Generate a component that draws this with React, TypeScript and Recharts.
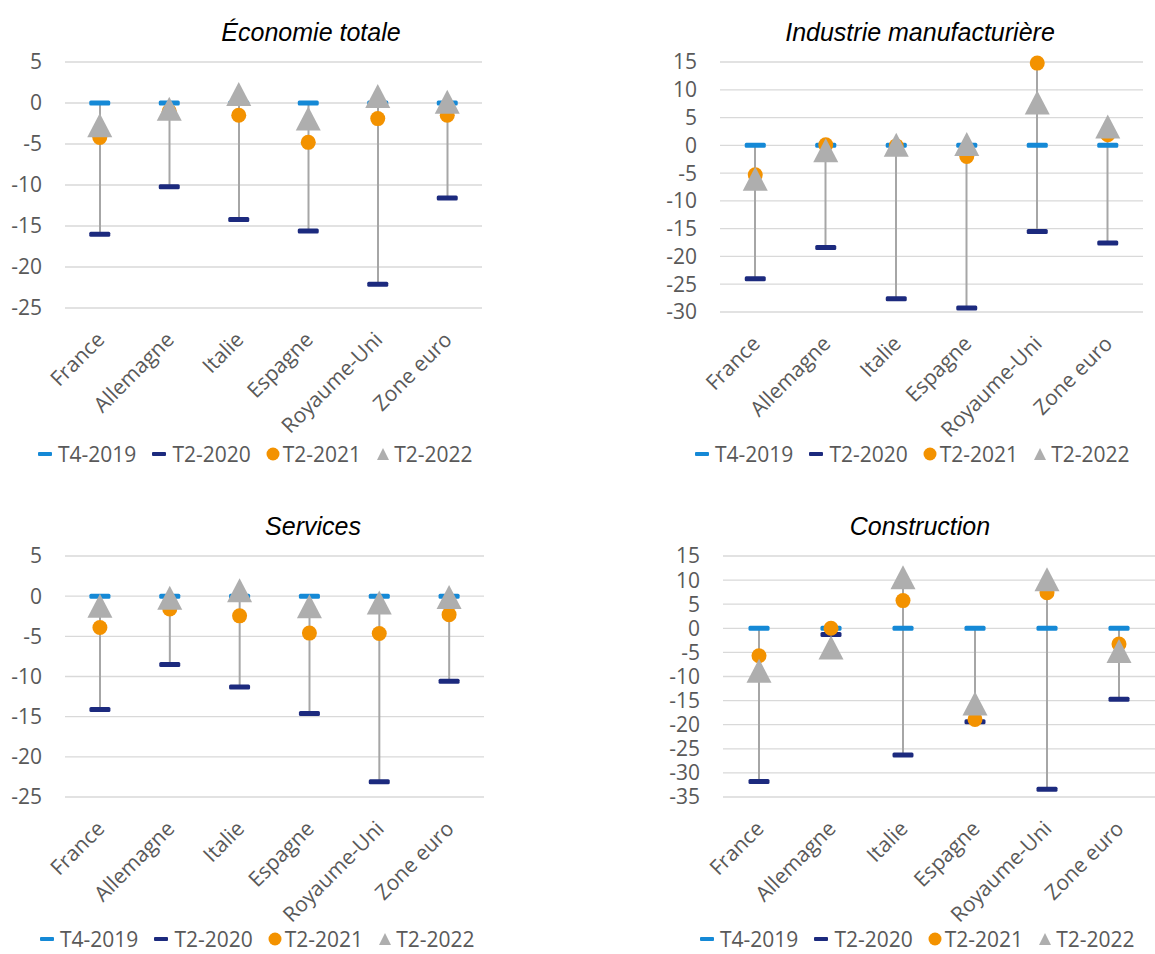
import React from "react";
import {
  ComposedChart,
  Line,
  Bar,
  XAxis,
  YAxis,
  CartesianGrid,
} from "recharts";

const categories = ["France", "Allemagne", "Italie", "Espagne", "Royaume-Uni", "Zone euro"];
const seriesNames = ["T4-2019", "T2-2020", "T2-2021", "T2-2022"];

// Économie totale
const ecoT4_2019 = [0, 0, 0, 0, 0, 0];
const ecoT2_2020 = [-16.0, -10.2, -14.2, -15.6, -22.1, -11.6];
const ecoT2_2021 = [-4.2, -1.0, -1.5, -4.8, -1.9, -1.5];
const ecoT2_2022 = [-2.7, -0.7, 1.1, -1.9, 0.85, 0.15];

// Industrie manufacturière
const indT4_2019 = [0, 0, 0, 0, 0, 0];
const indT2_2020 = [-24.0, -18.4, -27.6, -29.3, -15.5, -17.6];
const indT2_2021 = [-5.3, 0.1, -0.1, -2.0, 14.8, 1.9];
const indT2_2022 = [-6.0, -0.9, 0.1, 0.25, 7.7, 3.4];

// Services
const serT4_2019 = [0, 0, 0, 0, 0, 0];
const serT2_2020 = [-14.1, -8.5, -11.3, -14.6, -23.1, -10.6];
const serT2_2021 = [-3.9, -1.6, -2.45, -4.6, -4.65, -2.3];
const serT2_2022 = [-1.2, -0.2, 0.75, -1.25, -0.8, -0.1];

// Construction
const conT4_2019 = [0, 0, 0, 0, 0, 0];
const conT2_2020 = [-31.8, -1.3, -26.3, -19.4, -33.4, -14.7];
const conT2_2021 = [-5.7, 0, 5.75, -18.9, 7.4, -3.25];
const conT2_2022 = [-8.8, -4.0, 10.6, -15.6, 10.2, -4.7];

const ticksA = [-25, -20, -15, -10, -5, 0, 5];
const ticksInd = [-30, -25, -20, -15, -10, -5, 0, 5, 10, 15];
const ticksCon = [-35, -30, -25, -20, -15, -10, -5, 0, 5, 10, 15];

const colors = {
  t4: "#1589D6",
  t2020: "#1C2A7E",
  t2021: "#F39200",
  t2022: "#AEAEAE",
  hilo: "#A6A6A6",
};

const textColor = "#595959";
const font = "'Open Sans', sans-serif";

const buildRows = (a: number[], b: number[], c: number[], d: number[]) =>
  categories.map((name, i) => {
    const vals = [a[i], b[i], c[i], d[i]];
    return {
      name,
      t4: a[i],
      t2020: b[i],
      t2021: c[i],
      t2022: d[i],
      hilo: [Math.min(...vals), Math.max(...vals)],
    };
  });

const dashDot = (color: string) => (p: any) => (
  <rect
    key={`d-${p.index}`}
    x={p.cx - 10.5}
    y={p.cy - 2.5}
    width={21}
    height={5}
    rx={1.5}
    fill={color}
  />
);

const circleDot = (p: any) => (
  <circle key={`c-${p.index}`} cx={p.cx} cy={p.cy} r={7.5} fill={colors.t2021} />
);

const triDot = (p: any) => (
  <polygon
    key={`t-${p.index}`}
    points={`${p.cx},${p.cy - 12} ${p.cx + 12.5},${p.cy + 12} ${p.cx - 12.5},${p.cy + 12}`}
    fill={colors.t2022}
  />
);

// labels tilted at -45°, right end near the category
const CountryTick = (props: any) => {
  const { x, y, payload } = props;
  const ax = x + 6;
  const ay = y + 25;
  return (
    <text
      x={ax}
      y={ay}
      transform={`rotate(-45, ${ax}, ${ay})`}
      textAnchor="end"
      fontSize={21}
      fontFamily={font}
      fill={textColor}
    >
      {payload.value}
    </text>
  );
};

const LegendRow = ({ left, top }: { left: number; top: number }) => {
  const icon = (i: number) => {
    if (i === 0 || i === 1)
      return (
        <svg width={16} height={12} style={{ marginRight: 5 }}>
          <rect x={1} y={4} width={14} height={4} rx={1} fill={i === 0 ? colors.t4 : colors.t2020} />
        </svg>
      );
    if (i === 2)
      return (
        <svg width={14} height={14} style={{ marginRight: 3 }}>
          <circle cx={7} cy={7} r={6.5} fill={colors.t2021} />
        </svg>
      );
    return (
      <svg width={14} height={14} style={{ marginRight: 4 }}>
        <polygon points="7,1 13,13 1,13" fill={colors.t2022} />
      </svg>
    );
  };
  return (
    <div
      style={{
        position: "absolute",
        left,
        top: top - 11,
        height: 22,
        lineHeight: "22px",
        display: "flex",
        alignItems: "center",
        gap: 15,
        fontFamily: font,
        fontSize: 21,
        color: textColor,
        whiteSpace: "nowrap",
      }}
    >
      {seriesNames.map((s, i) => (
        <div key={s} style={{ display: "flex", alignItems: "center" }}>
          {icon(i)}
          <span>{s}</span>
        </div>
      ))}
    </div>
  );
};

interface PanelProps {
  title: string;
  titleX: number;
  titleY: number;
  plot: { left: number; top: number; right: number; bottom: number };
  rows: any[];
  domain: [number, number];
  ticks: number[];
  legendLeft: number;
  legendTop: number;
}

const Panel = ({ title, titleX, titleY, plot, rows, domain, ticks, legendLeft, legendTop }: PanelProps) => {
  const yw = 70;
  const mt = 15;
  const xh = 148;
  const width = plot.right - plot.left + yw;
  const height = plot.bottom - plot.top + mt + xh;
  return (
    <>
      <div
        style={{
          position: "absolute",
          left: titleX - 200,
          width: 400,
          top: titleY - 16,
          height: 32,
          lineHeight: "32px",
          textAlign: "center",
          fontFamily: "'Liberation Sans', Arial, sans-serif",
          fontStyle: "italic",
          fontSize: 25,
          color: "#000",
        }}
      >
        {title}
      </div>
      <div style={{ position: "absolute", left: plot.left - yw, top: plot.top - mt }}>
        <ComposedChart
          width={width}
          height={height}
          data={rows}
          margin={{ top: mt, right: 0, bottom: 0, left: 0 }}
        >
          <CartesianGrid vertical={false} stroke="#D9D9D9" strokeWidth={1.3} />
          <XAxis
            dataKey="name"
            height={xh}
            axisLine={false}
            tickLine={false}
            interval={0}
            tick={<CountryTick />}
          />
          <YAxis
            width={yw}
            domain={domain}
            ticks={ticks}
            interval={0}
            axisLine={false}
            tickLine={false}
            tickSize={0}
            tickMargin={23}
            tick={{ fill: textColor, fontSize: 21, fontFamily: font }}
          />
          <Bar dataKey="hilo" barSize={2} fill={colors.hilo} isAnimationActive={false} />
          <Line dataKey="t4" stroke="none" dot={dashDot(colors.t4)} activeDot={false} isAnimationActive={false} />
          <Line dataKey="t2020" stroke="none" dot={dashDot(colors.t2020)} activeDot={false} isAnimationActive={false} />
          <Line dataKey="t2021" stroke="none" dot={circleDot} activeDot={false} isAnimationActive={false} />
          <Line dataKey="t2022" stroke="none" dot={triDot} activeDot={false} isAnimationActive={false} />
        </ComposedChart>
      </div>
      <LegendRow left={legendLeft} top={legendTop} />
    </>
  );
};

export default function App() {
  return (
    <div
      style={{
        position: "absolute",
        left: 0,
        top: 0,
        width: 1155,
        height: 954,
        overflow: "hidden",
        background: "#fff",
      }}
    >
      <Panel
        title="Économie totale"
        titleX={311}
        titleY={32}
        plot={{ left: 65, top: 62, right: 482, bottom: 308 }}
        rows={buildRows(ecoT4_2019, ecoT2_2020, ecoT2_2021, ecoT2_2022)}
        domain={[-25, 5]}
        ticks={ticksA}
        legendLeft={37}
        legendTop={454}
      />
      <Panel
        title="Industrie manufacturière"
        titleX={920}
        titleY={32}
        plot={{ left: 720, top: 62, right: 1143, bottom: 312 }}
        rows={buildRows(indT4_2019, indT2_2020, indT2_2021, indT2_2022)}
        domain={[-30, 15]}
        ticks={ticksInd}
        legendLeft={694}
        legendTop={454}
      />
      <Panel
        title="Services"
        titleX={313}
        titleY={526}
        plot={{ left: 65, top: 556, right: 484, bottom: 797 }}
        rows={buildRows(serT4_2019, serT2_2020, serT2_2021, serT2_2022)}
        domain={[-25, 5]}
        ticks={ticksA}
        legendLeft={39}
        legendTop={939}
      />
      <Panel
        title="Construction"
        titleX={920}
        titleY={526}
        plot={{ left: 723, top: 556, right: 1155, bottom: 797 }}
        rows={buildRows(conT4_2019, conT2_2020, conT2_2021, conT2_2022)}
        domain={[-35, 15]}
        ticks={ticksCon}
        legendLeft={699}
        legendTop={939}
      />
    </div>
  );
}
